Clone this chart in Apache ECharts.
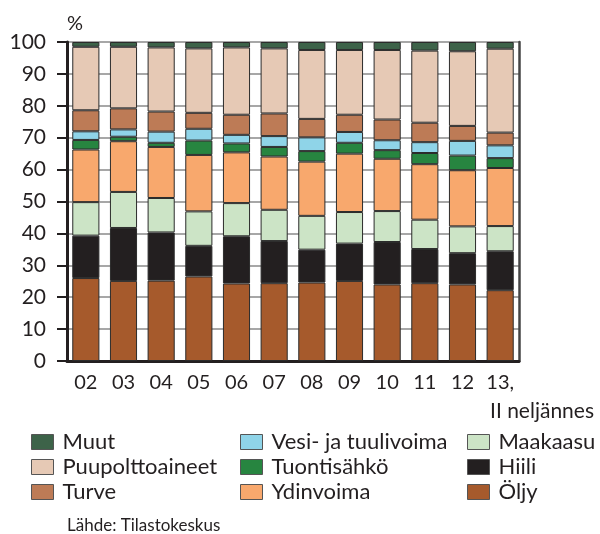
<!DOCTYPE html>
<html>
<head>
<meta charset="utf-8">
<script src="https://cdn.jsdelivr.net/npm/echarts@6/dist/echarts.min.js"></script>
<style>
  html, body { margin: 0; padding: 0; background: #fff; }
  #chart { width: 600px; height: 534px; }
</style>
</head>
<body>
<div id="chart"></div>
<script>
// Sähkön tuotanto energialähteittäin, osuus prosentteina
const years = ['02', '03', '04', '05', '06', '07', '08', '09', '10', '11', '12', '13,'];
const yTicks = [0, 10, 20, 30, 40, 50, 60, 70, 80, 90, 100];

const oljy        = [26.0, 25.1, 25.2, 26.5, 24.3, 24.4, 24.6, 25.1, 24.0, 24.4, 24.0, 22.2];
const hiili       = [13.3, 16.6, 15.1,  9.6, 14.8, 13.2, 10.3, 11.7, 13.3, 10.7,  9.8, 12.2];
const maakaasu    = [10.5, 11.3, 10.8, 10.8, 10.4,  9.8, 10.6,  9.9,  9.7,  9.2,  8.4,  7.9];
const ydinvoima   = [16.5, 15.9, 16.0, 17.7, 15.9, 16.7, 17.0, 18.3, 16.4, 17.4, 17.6, 18.2];
const tuontisahko = [ 3.0,  1.4,  1.3,  4.5,  2.8,  3.0,  3.3,  3.4,  2.7,  3.5,  4.6,  3.1];
const vesiTuuli   = [ 2.7,  2.3,  3.5,  3.7,  2.7,  3.4,  4.3,  3.4,  3.1,  3.4,  4.6,  4.0];
const turve       = [ 6.6,  6.6,  6.3,  5.0,  6.3,  7.1,  5.8,  5.4,  6.5,  6.1,  4.7,  4.0];
const puu         = [19.9, 19.3, 20.1, 20.2, 21.1, 20.4, 21.6, 20.3, 21.8, 22.6, 23.4, 26.3];
const muut        = [ 1.5,  1.5,  1.7,  2.0,  1.7,  2.0,  2.5,  2.5,  2.5,  2.7,  2.9,  2.1];

const FONT = 'Lato, "Open Sans", sans-serif';

const seriesDefs = [
  { name: 'Öljy',                data: oljy,        color: '#a65a2c' },
  { name: 'Hiili',               data: hiili,       color: '#231f20' },
  { name: 'Maakaasu',            data: maakaasu,    color: '#cce4c6' },
  { name: 'Ydinvoima',           data: ydinvoima,   color: '#f8a86d' },
  { name: 'Tuontisähkö',         data: tuontisahko, color: '#278540' },
  { name: 'Vesi- ja tuulivoima', data: vesiTuuli,   color: '#8fd4e8' },
  { name: 'Turve',               data: turve,       color: '#bd7b56' },
  { name: 'Puupolttoaineet',     data: puu,         color: '#e6c9b5' },
  { name: 'Muut',                data: muut,        color: '#3d6349' }
];

const series = seriesDefs.map(s => ({
  name: s.name,
  type: 'bar',
  stack: 'total',
  barCategoryGap: '28%',
  data: s.data,
  itemStyle: { color: s.color, borderColor: '#2b2b2b', borderWidth: 1 },
  emphasis: { disabled: true }
}));

function legendColumn(left, names) {
  return {
    orient: 'vertical',
    left: left,
    top: 431,
    padding: 0,
    itemWidth: 22,
    itemHeight: 15,
    itemGap: 3,
    icon: 'rect',
    selectedMode: false,
    data: names,
    itemStyle: { borderColor: '#555', borderWidth: 1 },
    textStyle: { fontFamily: FONT, fontSize: 22, color: '#231f20', lineHeight: 22, padding: [0, 0, 0, 4] }
  };
}

const chart = echarts.init(document.getElementById('chart'), null, { renderer: 'canvas' });
chart.setOption({
  animation: false,
  backgroundColor: '#ffffff',
  grid: { left: 67, right: 81, top: 42, bottom: 173 },
  legend: [
    legendColumn(31, ['Muut', 'Puupolttoaineet', 'Turve']),
    legendColumn(240, ['Vesi- ja tuulivoima', 'Tuontisähkö', 'Ydinvoima']),
    legendColumn(467, ['Maakaasu', 'Hiili', 'Öljy'])
  ],
  xAxis: {
    type: 'category',
    data: years,
    axisLine: { show: true, lineStyle: { color: '#231f20', width: 3 } },
    axisTick: { show: false },
    axisLabel: { fontFamily: FONT, fontSize: 20, color: '#231f20', margin: 12 }
  },
  yAxis: [
    {
      type: 'value',
      min: yTicks[0],
      max: yTicks[yTicks.length - 1],
      interval: 10,
      name: '%',
      nameLocation: 'end',
      nameGap: 8,
      nameTextStyle: { fontFamily: FONT, fontSize: 20, color: '#231f20', align: 'left', padding: [0, 0, 0, 0] },
      axisLine: { show: true, lineStyle: { color: '#231f20', width: 3 } },
      axisTick: { show: true, inside: false, length: 10, lineStyle: { color: '#231f20', width: 2 } },
      axisLabel: { fontFamily: FONT, fontSize: 21, color: '#231f20', margin: 21 },
      splitLine: { show: true, lineStyle: { color: '#8a8a8a', width: 1.5 } }
    },
    {
      type: 'value',
      position: 'right',
      min: yTicks[0],
      max: yTicks[yTicks.length - 1],
      interval: 10,
      axisLine: { show: true, lineStyle: { color: '#444', width: 2.5 } },
      axisTick: { show: false },
      axisLabel: { show: false },
      splitLine: { show: false }
    }
  ],
  series: series,
  graphic: [
    {
      type: 'text',
      right: 6,
      top: 401,
      style: { text: 'II neljännes', font: '21px ' + FONT, fill: '#231f20' }
    },
    {
      type: 'text',
      left: 67,
      top: 517,
      style: { text: 'Lähde: Tilastokeskus', font: '17px ' + FONT, fill: '#231f20' }
    }
  ]
});
</script>
</body>
</html>
